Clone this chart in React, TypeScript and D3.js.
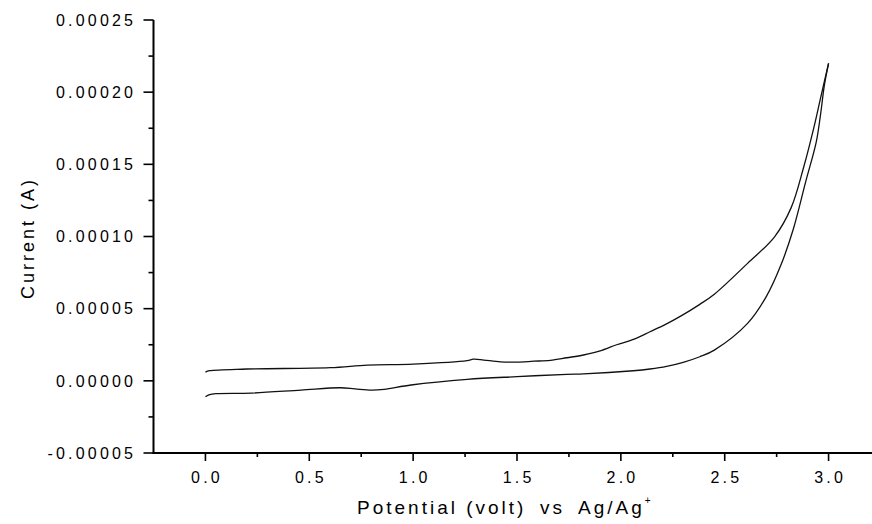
import React from "react";
import * as d3 from "d3";

// Forward scan (lower branch), potential (V) vs current (A)
const forwardV = [0.0, 0.02, 0.05, 0.22, 0.46, 0.65, 0.72, 0.8, 0.86, 0.99, 1.26, 1.5, 1.74, 1.82, 2.06, 2.14, 2.22, 2.3, 2.38, 2.45, 2.61, 2.7, 2.77, 2.83, 2.89, 2.94, 2.96, 2.98, 3.0];
const forwardI = [-1.1e-5, -9.6e-6, -8.9e-6, -8.5e-6, -6.4e-6, -4.8e-6, -5.6e-6, -6.4e-6, -5.9e-6, -2.9e-6, 1.0e-6, 2.9e-6, 4.5e-6, 4.8e-6, 7.0e-6, 8.2e-6, 1.0e-5, 1.28e-5, 1.67e-5, 2.13e-5, 3.98e-5, 5.83e-5, 8.0e-5, 1.05e-4, 1.38e-4, 1.65e-4, 1.83e-4, 2.05e-4, 2.2e-4];

// Reverse scan (upper branch)
const reverseV = [3.0, 2.96, 2.93, 2.88, 2.82, 2.74, 2.61, 2.45, 2.38, 2.29, 2.22, 2.14, 2.06, 1.98, 1.9, 1.82, 1.74, 1.66, 1.58, 1.5, 1.42, 1.34, 1.29, 1.26, 1.0, 0.78, 0.6, 0.2, 0.02, 0.0];
const reverseI = [2.2e-4, 1.95e-4, 1.76e-4, 1.48e-4, 1.2e-4, 9.98e-5, 8.14e-5, 6.0e-5, 5.3e-5, 4.5e-5, 3.95e-5, 3.4e-5, 2.87e-5, 2.5e-5, 2.07e-5, 1.79e-5, 1.6e-5, 1.42e-5, 1.36e-5, 1.3e-5, 1.32e-5, 1.44e-5, 1.5e-5, 1.4e-5, 1.16e-5, 1.09e-5, 9.1e-6, 8.2e-6, 7.0e-6, 6.0e-6];

const xMajorTicks = [0.0, 0.5, 1.0, 1.5, 2.0, 2.5, 3.0];
const xMinorTicks = [0.25, 0.75, 1.25, 1.75, 2.25, 2.75];
const yMajorTicks = [-0.00005, 0.0, 0.00005, 0.0001, 0.00015, 0.0002, 0.00025];
const yMinorTicks = [-0.000025, 0.000025, 0.000075, 0.000125, 0.000175, 0.000225];
const xTickLabels = ["0.0", "0.5", "1.0", "1.5", "2.0", "2.5", "3.0"];
const yTickLabels = ["-0.00005", "0.00000", "0.00005", "0.00010", "0.00015", "0.00020", "0.00025"];

const W = 872;
const H = 524;
const FONT = "'Liberation Sans', Arial, Helvetica, sans-serif";

export default function App() {
  const x = d3.scaleLinear().domain([-0.25, 3.25]).range([153.5, 880.5]);
  const y = d3.scaleLinear().domain([-0.00005, 0.00025]).range([453, 20]);
  const line = d3
    .line<[number, number]>()
    .x((d) => x(d[0]))
    .y((d) => y(d[1]))
    .curve(d3.curveCatmullRom.alpha(0.5));

  const fwd: [number, number][] = forwardV.map((v, i) => [v, forwardI[i]]);
  const rev: [number, number][] = reverseV.map((v, i) => [v, reverseI[i]]);

  const axisY = y(-0.00005);
  const axisX = x(-0.25);
  const ls = 3.2;

  return (
    <svg
      width={W}
      height={H}
      style={{ position: "absolute", left: 0, top: 0, background: "#fff" }}
      fontFamily={FONT}
    >
      <rect x={0} y={0} width={W} height={H} fill="#fff" />
      {/* curves */}
      <path d={line(fwd) || ""} fill="none" stroke="#111" strokeWidth={1.3} />
      <path d={line(rev) || ""} fill="none" stroke="#111" strokeWidth={1.3} />

      {/* axes lines */}
      <line x1={axisX} x2={axisX} y1={y(0.00025)} y2={axisY + 1} stroke="#000" strokeWidth={2} />
      <line x1={axisX - 1} x2={W} y1={axisY} y2={axisY} stroke="#000" strokeWidth={2} />

      {/* y ticks */}
      {yMajorTicks.map((t) => (
        <line key={"ym" + t} x1={axisX - 10} x2={axisX} y1={y(t)} y2={y(t)} stroke="#000" strokeWidth={1.6} />
      ))}
      {yMinorTicks.map((t) => (
        <line key={"yn" + t} x1={axisX - 5} x2={axisX} y1={y(t)} y2={y(t)} stroke="#000" strokeWidth={1.6} />
      ))}
      {yMajorTicks.map((t, i) => (
        <text
          key={"yl" + t}
          x={133 + ls}
          y={y(t) + 5.8}
          textAnchor="end"
          fontSize={16}
          letterSpacing={ls}
          fill="#000"
        >
          {yTickLabels[i]}
        </text>
      ))}

      {/* x ticks */}
      {xMajorTicks.map((t) => (
        <line key={"xm" + t} x1={x(t)} x2={x(t)} y1={axisY} y2={axisY + 8} stroke="#000" strokeWidth={1.6} />
      ))}
      {xMinorTicks.map((t) => (
        <line key={"xn" + t} x1={x(t)} x2={x(t)} y1={axisY} y2={axisY + 4} stroke="#000" strokeWidth={1.6} />
      ))}
      {xMajorTicks.map((t, i) => (
        <text
          key={"xl" + t}
          x={x(t) + ls / 2}
          y={482.5}
          textAnchor="middle"
          fontSize={16}
          letterSpacing={ls}
          fill="#000"
        >
          {xTickLabels[i]}
        </text>
      ))}

      {/* axis titles */}
      <text
        transform={`translate(34,238) rotate(-90)`}
        textAnchor="middle"
        fontSize={18}
        letterSpacing={3}
        fill="#000"
      >
        Current (A)
      </text>
      <text x={357} y={514} fontSize={19} letterSpacing={3} fill="#000">
        Potential (volt)
      </text>
      <text x={540} y={514} fontSize={19} letterSpacing={3} fill="#000">
        vs
      </text>
      <text x={578} y={514} fontSize={19} letterSpacing={3} fill="#000">
        Ag/Ag
        <tspan dy={-10} fontSize={10}>+</tspan>
      </text>
    </svg>
  );
}
